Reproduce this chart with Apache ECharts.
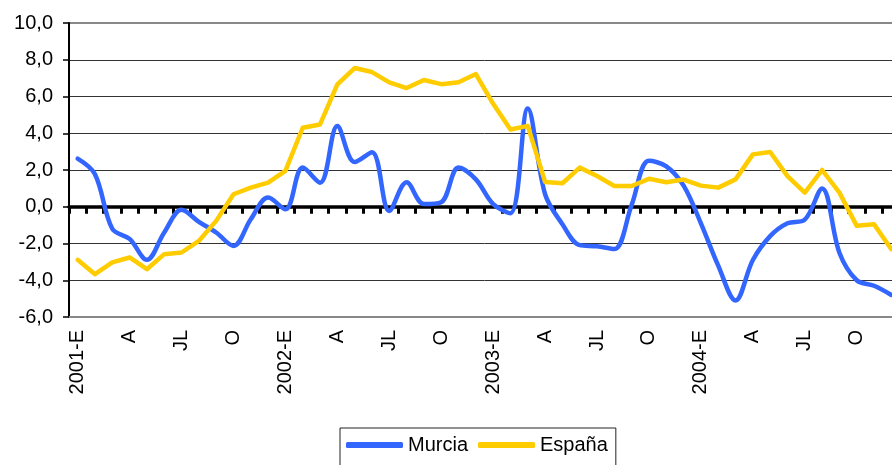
<!DOCTYPE html>
<html>
<head>
<meta charset="utf-8">
<script src="https://cdn.jsdelivr.net/npm/echarts@6/dist/echarts.min.js"></script>
<style>
  html, body { margin: 0; padding: 0; overflow: hidden; background: #fff; }
  #chart { width: 900px; height: 465px; }
</style>
</head>
<body>
<div id="chart"></div>
<script>
// meses 2001-2004, etiquetas como en el original
const years = ['2001', '2002', '2003', '2004']
const months = ['E', 'F', 'M', 'A', 'MY', 'JN', 'JL', 'AG', 'S', 'O', 'N', 'D']
const categories = []
years.forEach(y => months.forEach((m, i) => categories.push(i === 0 ? y + '-' + m : m)))

const murcia = [
  2.62, 1.77, -1.2, -1.75, -2.89, -1.4, -0.17, -0.82, -1.4, -2.13, -0.68, 0.5,
  -0.14, 2.13, 1.31, 4.39, 2.43, 2.96, -0.23, 1.33, 0.15, 0.25, 2.13, 1.49,
  0.14, -0.35, 5.35, 0.68, -0.95, -2.09, -2.15, -2.3, 0.1, 2.5, 2.2, 1.15,
  -0.9, -3.2, -5.1, -2.9, -1.6, -0.9, -0.7, 1.0, -2.5, -4.0, -4.3, -4.8
]
const espana = [
  -2.89, -3.67, -3.03, -2.76, -3.4, -2.58, -2.49, -1.86, -0.77, 0.68, 1.04, 1.31,
  1.95, 4.3, 4.48, 6.66, 7.55, 7.33, 6.77, 6.46, 6.9, 6.67, 6.78, 7.22,
  5.6, 4.2, 4.4, 1.35, 1.28, 2.13, 1.67, 1.13, 1.13, 1.52, 1.33, 1.48,
  1.15, 1.04, 1.49, 2.85, 2.98, 1.67, 0.77, 2.0, 0.77, -1.04, -0.95, -2.31
]

const font = 'Liberation Sans, Arial, sans-serif'
const chart = echarts.init(document.getElementById('chart'))

chart.setOption({
  animation: false,
  grid: {
    left: 69, right: 0, top: 23, bottom: 148,
    show: true, borderColor: '#888', borderWidth: 2
  },
  legend: {
    left: 340, top: 428,
    padding: [7, 8, 30, 6],
    borderColor: '#222', borderWidth: 1,
    itemWidth: 57, itemHeight: 6, itemGap: 10,
    icon: 'roundRect',
    textStyle: { fontFamily: font, fontSize: 20, color: '#000' },
    data: ['Murcia', 'España']
  },
  xAxis: [
    {
      // eje inferior con etiquetas
      type: 'category',
      data: categories,
      position: 'bottom',
      axisLine: { onZero: false, lineStyle: { color: '#888', width: 2 } },
      axisTick: { show: false },
      axisLabel: {
        interval: 2, rotate: 90, margin: 13,
        fontFamily: font, fontSize: 20, color: '#000'
      },
      splitLine: { show: false }
    },
    {
      // linea del cero con marcas
      type: 'category',
      data: categories,
      position: 'bottom',
      axisLine: { onZero: true, lineStyle: { color: '#000', width: 3.5 } },
      axisTick: { show: true, interval: 0, length: 7, lineStyle: { color: '#000', width: 3 } },
      axisLabel: { show: false },
      splitLine: { show: false }
    }
  ],
  yAxis: {
    type: 'value',
    min: -6, max: 10, interval: 2,
    axisLine: { show: true, lineStyle: { color: '#000', width: 2 } },
    axisTick: { show: true, length: 6, lineStyle: { color: '#000', width: 1.5 } },
    axisLabel: {
      margin: 16, fontFamily: font, fontSize: 20, color: '#000',
      formatter: v => v.toFixed(1).replace('.', ',')
    },
    splitLine: { show: true, showMinLine: false, showMaxLine: false, lineStyle: { color: '#333', width: 1 } }
  },
  series: [
    {
      name: 'Murcia',
      type: 'line',
      xAxisIndex: 0,
      data: murcia,
      smooth: 0.35,
      showSymbol: false,
      color: '#3366ff',
      lineStyle: { width: 4.5, color: '#3366ff', cap: 'round', join: 'round' },
      z: 3
    },
    {
      name: 'España',
      type: 'line',
      xAxisIndex: 0,
      data: espana,
      showSymbol: false,
      color: '#ffcc00',
      lineStyle: { width: 4.5, color: '#ffcc00', cap: 'round', join: 'round' },
      z: 4
    }
  ]
})
</script>
</body>
</html>
